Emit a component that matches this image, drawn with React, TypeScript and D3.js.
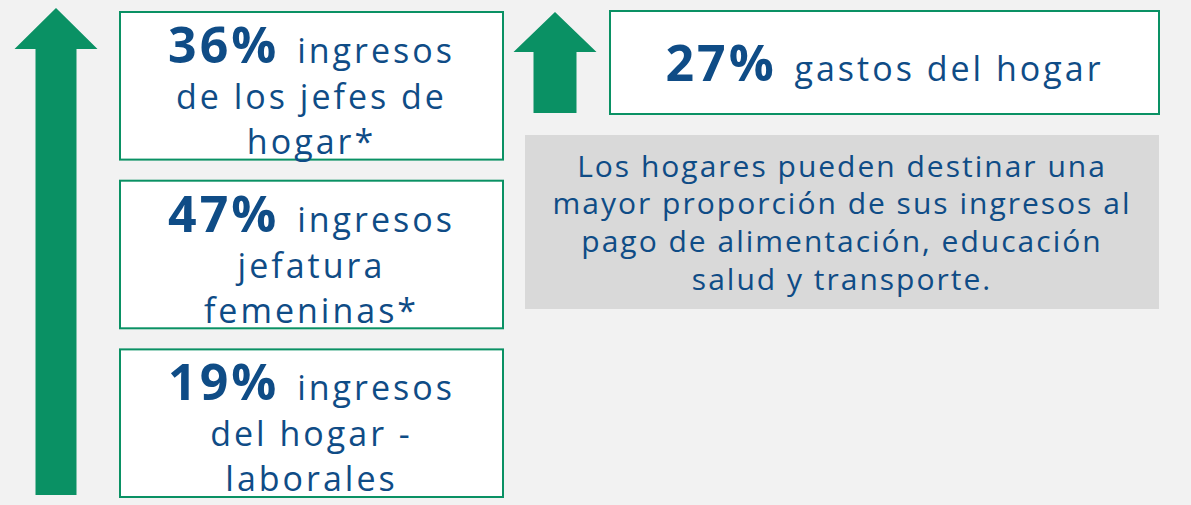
import { scaleBand, line } from "d3";

const incomeKeys = ["jefes", "femeninas", "laborales"];
const incomePct = [36, 47, 19];
const incomeLines = [
  ["ingresos", "de los jefes de", "hogar*"],
  ["ingresos", "jefatura", "femeninas*"],
  ["ingresos", "del hogar -", "laborales"],
];
const expensePct = [27];
const expenseLabel = ["gastos del hogar"];
const noteLines = [
  "Los hogares pueden destinar una",
  "mayor proporción de sus ingresos al",
  "pago de alimentación, educación",
  "salud y transporte.",
];

const W = 1191;
const H = 505;
const GREEN = "#0a9164";
const BLUE = "#0f4c86";
const FONT = "'Open Sans', 'Noto Sans', sans-serif";

// vertical arrow: apex at top, head base, shaft down to bottom
function arrowPath(cx, top, headY, bottom, headHalf, shaftHalf) {
  const pts: [number, number][] = [
    [cx, top],
    [cx + headHalf, headY],
    [cx + shaftHalf, headY],
    [cx + shaftHalf, bottom],
    [cx - shaftHalf, bottom],
    [cx - shaftHalf, headY],
    [cx - headHalf, headY],
  ];
  return line()(pts) + "Z";
}

export default function App() {
  const y = scaleBand<string>().domain(incomeKeys).range([12, 497]).paddingInner(0.125);
  const boxX = 120;
  const boxW = 383;
  const lineOffsets = [51, 97, 142];

  const rightBox = { x: 610, y: 11, w: 549, h: 103 };
  const note = { x: 525, y: 135, w: 634, h: 174 };
  const noteBase = [177, 214, 252, 290];

  return (
    <svg
      width={W}
      height={H}
      style={{ position: "absolute", left: 0, top: 0 }}
      fontFamily={FONT}
    >
      <rect width={W} height={H} fill="#f2f2f2" />

      <path d={arrowPath(56, 8, 49, 495, 41.5, 20.5)} fill={GREEN} />

      {incomeKeys.map((k, i) => {
        const top = y(k) as number;
        const cx = boxX + boxW / 2;
        return (
          <g key={k}>
            <rect
              x={boxX}
              y={top}
              width={boxW}
              height={y.bandwidth()}
              fill="#fff"
              stroke={GREEN}
              strokeWidth={2}
            />
            {incomeLines[i].map((t, j) => (
              <text
                key={j}
                x={cx}
                y={top + lineOffsets[j]}
                textAnchor="middle"
                fill={BLUE}
                fontSize={34}
                letterSpacing={3}
              >
                {j === 0 ? (
                  <>
                    <tspan fontWeight="bold" fontSize={50} letterSpacing={3}>{incomePct[i]}%</tspan>
                    <tspan dx={6}> {t}</tspan>
                  </>
                ) : (
                  t
                )}
              </text>
            ))}
          </g>
        );
      })}

      <path d={arrowPath(555, 12, 52, 113, 41.5, 21.5)} fill={GREEN} />
      <rect
        x={rightBox.x}
        y={rightBox.y}
        width={rightBox.w}
        height={rightBox.h}
        fill="#fff"
        stroke={GREEN}
        strokeWidth={2}
      />
      <text
        x={rightBox.x + rightBox.w / 2}
        y={81}
        textAnchor="middle"
        fill={BLUE}
        fontSize={34}
        letterSpacing={3}
      >
        <tspan fontWeight="bold" fontSize={50}>{expensePct[0]}%</tspan>
        <tspan dx={6}> {expenseLabel[0]}</tspan>
      </text>

      <rect x={note.x} y={note.y} width={note.w} height={note.h} fill="#d9d9d9" />
      {noteLines.map((t, i) => (
        <text
          key={i}
          x={note.x + note.w / 2}
          y={noteBase[i]}
          textAnchor="middle"
          fill={BLUE}
          fontSize={30}
          letterSpacing={2}
        >
          {t}
        </text>
      ))}
    </svg>
  );
}
